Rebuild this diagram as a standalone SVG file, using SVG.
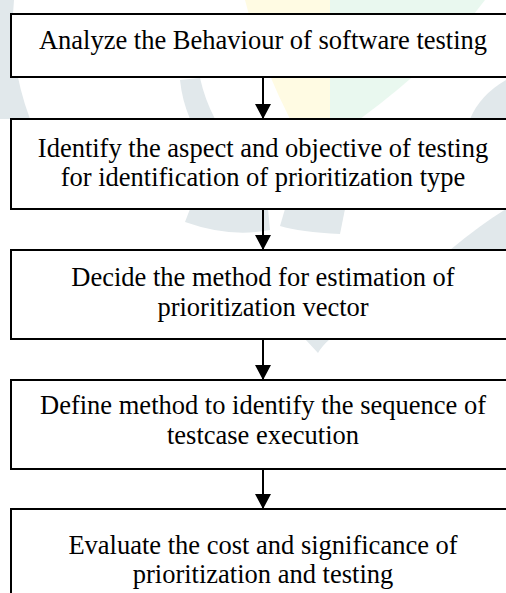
<svg xmlns="http://www.w3.org/2000/svg" width="506" height="593" viewBox="0 0 506 593">
  <style>
    .box { fill: #ffffff; stroke: #000000; stroke-width: 2; }
    .lbl { font-size: 26.5px; fill: #000000; text-anchor: middle; }
    .conn { stroke: #000000; stroke-width: 2; fill: none; }
    .wm-grey { fill: #e1e8eb; }
    .wm-yellow { fill: #fffbe3; }
    .wm-green { fill: #e9f8ef; }
  </style>
  <defs>
    <marker id="arrow" markerUnits="userSpaceOnUse" markerWidth="16" markerHeight="16" refX="15" refY="8" orient="auto">
      <path d="M0,0 L15,8 L0,16 Z" fill="#000000"/>
    </marker>
  </defs>
  <rect x="0" y="0" width="506" height="593" fill="#ffffff"/>
  <g id="watermark">
    <path class="wm-grey" d="M0,0 L14,0 Q8,60 30,119 L0,119 Z"/>
    <path class="wm-grey" d="M180,80 L200,78 Q205,100 215,119 L190,119 Q182,100 180,80 Z"/>
    <path class="wm-yellow" d="M245,0 L330,0 L330,119 L290,119 Q260,60 245,0 Z"/>
    <path class="wm-green" d="M330,0 L485,0 Q440,60 360,119 L330,119 Z"/>
    <path class="wm-grey" d="M470,119 Q480,95 506,80 L506,119 Z"/>
    <path class="wm-grey" d="M185,222 Q230,238 270,230 L268,209 L190,209 Z"/>
    <path class="wm-grey" d="M280,226 Q300,232 340,234 L345,209 L285,209 Z"/>
    <path class="wm-grey" d="M450,250 Q480,225 506,209 L506,250 Z"/>
    <path class="wm-grey" d="M305,339 L330,339 Q322,346 318,353 Z"/>
  </g>
  <g id="connectors">
    <line class="conn" x1="263" y1="77" x2="263" y2="119" marker-end="url(#arrow)"/>
    <line class="conn" x1="263" y1="209" x2="263" y2="250" marker-end="url(#arrow)"/>
    <line class="conn" x1="263" y1="339" x2="263" y2="380" marker-end="url(#arrow)"/>
    <line class="conn" x1="263" y1="469" x2="263" y2="509" marker-end="url(#arrow)"/>
  </g>
  <g font-family="'Liberation Serif', 'DejaVu Serif', 'Times New Roman', serif">
  <g id="node1">
    <rect class="box" x="11" y="14" width="520" height="63"/>
    <text class="lbl" x="263" y="49">Analyze the Behaviour of software testing</text>
  </g>
  <g id="node2">
    <rect class="box" x="11" y="119" width="520" height="90"/>
    <text class="lbl" x="263" y="157">Identify the aspect and objective of testing</text>
    <text class="lbl" x="263" y="186">for identification of prioritization type</text>
  </g>
  <g id="node3">
    <rect class="box" x="11" y="250" width="520" height="89"/>
    <text class="lbl" x="263" y="286">Decide the method for estimation of</text>
    <text class="lbl" x="263" y="316">prioritization vector</text>
  </g>
  <g id="node4">
    <rect class="box" x="11" y="380" width="520" height="89"/>
    <text class="lbl" x="263" y="414">Define method to identify the sequence of</text>
    <text class="lbl" x="263" y="444">testcase execution</text>
  </g>
  <g id="node5">
    <rect class="box" x="11" y="509" width="520" height="110"/>
    <text class="lbl" x="263" y="554">Evaluate the cost and significance of</text>
    <text class="lbl" x="263" y="583">prioritization and testing</text>
  </g>
  </g>
</svg>
